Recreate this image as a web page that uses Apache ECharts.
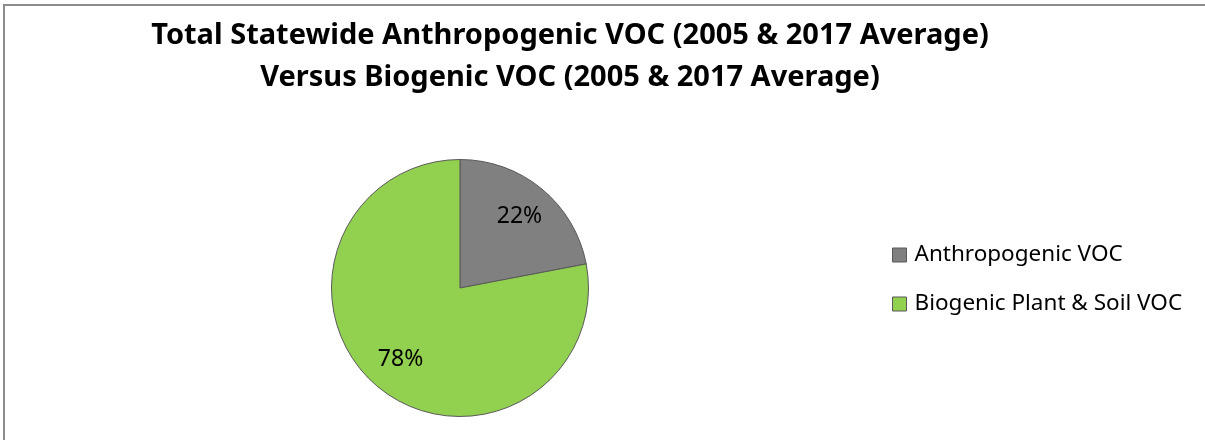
<!DOCTYPE html>
<html>
  <head>
    <meta charset="UTF-8">
    <title>VOC pie</title>
    <script src="https://cdn.jsdelivr.net/npm/echarts@6/dist/echarts.min.js"></script>
    <style>
      html, body { margin: 0; padding: 0; background: #fff; }
    </style>
  </head>
  <body>
    <div id="myChart" style="width: 1205px;height:440px;"></div>
    <script type="text/javascript">
      // data
      var categories = ['Anthropogenic VOC', 'Biogenic Plant & Soil VOC'];
      var shares = [22, 78];      // percent
      var colors = ['#808080', '#92D050'];
      var titleLines = ['Total Statewide Anthropogenic VOC (2005 & 2017 Average)',
                        'Versus Biogenic VOC (2005 & 2017 Average)'];

      var font = "'Noto Sans', sans-serif";

      var pieData = [];
      var labelData = [];
      for (var i = 0; i < categories.length; i++) {
        pieData.push({ name: categories[i], value: shares[i], itemStyle: { color: colors[i] } });
        labelData.push({ name: categories[i], value: shares[i] });
      }

      var myChart = echarts.init(document.getElementById('myChart'));

      var option = {
        animation: false,
        backgroundColor: '#fff',
        title: {
          text: titleLines.join('\n'),
          left: 570,
          top: 15,
          padding: 0,
          textAlign: 'center',
          textStyle: {
            fontFamily: font,
            fontWeight: 'bold',
            fontSize: 29,
            lineHeight: 42,
            color: '#000'
          }
        },
        legend: {
          orient: 'vertical',
          left: 887,
          top: 237,
          icon: 'rect',
          itemWidth: 14,
          itemHeight: 14,
          itemGap: 23,
          data: categories,
          itemStyle: { borderColor: '#595959', borderWidth: 1 },
          textStyle: { fontFamily: font, fontSize: 22.5, lineHeight: 26, color: '#000', padding: [0, 0, 0, 3] }
        },
        graphic: [{
          type: 'rect',
          shape: { x: 4, y: 5, width: 1240, height: 480 },
          style: { fill: 'none', stroke: '#8c8c8c', lineWidth: 2 },
          silent: true,
          z: -1
        }],
        series: [
          {
            name: 'VOC',
            type: 'pie',
            center: [460, 288],
            radius: 128.5,
            startAngle: 90,
            clockwise: true,
            label: { show: false },
            labelLine: { show: false },
            emphasis: { disabled: true },
            itemStyle: { borderColor: '#595959', borderWidth: 1 },
            data: pieData
          },
          {
            // transparent ring only used to place the percentage labels
            name: 'labels',
            type: 'pie',
            center: [460, 288],
            radius: [52, 128.5],
            startAngle: 90,
            clockwise: true,
            silent: true,
            legendHoverLink: false,
            emphasis: { disabled: true },
            itemStyle: { color: 'rgba(0,0,0,0)', borderWidth: 0 },
            label: {
              show: true,
              position: 'inside',
              formatter: '{c}%',
              fontFamily: font,
              fontSize: 23,
              color: '#000'
            },
            labelLine: { show: false },
            data: labelData
          }
        ]
      };

      myChart.setOption(option);
    </script>
  </body>
</html>
